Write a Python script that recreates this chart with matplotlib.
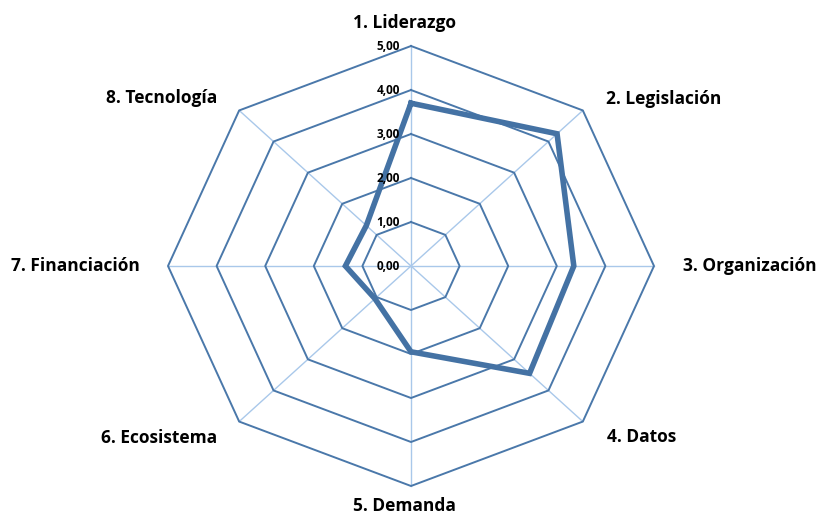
import numpy as np
from matplotlib import pyplot as plt

categories = ["1. Liderazgo", "2. Legislación", "3. Organización", "4. Datos",
              "5. Demanda", "6. Ecosistema", "7. Financiación", "8. Tecnología"]
values = [3.70, 4.25, 3.35, 3.45, 1.95, 1.05, 1.35, 1.30]
rings = [1, 2, 3, 4, 5]
tick_labels = ["0,00", "1,00", "2,00", "3,00", "4,00", "5,00"]

n = len(categories)
# clockwise from the top
ang = np.pi / 2 - np.arange(n) * 2 * np.pi / n
cx, sy = np.cos(ang), np.sin(ang)

fig = plt.figure(figsize=(8.21, 5.17), dpi=100)
ax = fig.add_axes([0, 0, 1, 1])
# horizontal unit ~48.6 px, vertical ~44 px, like the stretched excel radar
ax.set_xlim(-411 / 48.6, 410 / 48.6)
ax.set_ylim(-251 / 44.0, 266 / 44.0)
ax.axis('off')

ring_col = '#4A78AA'
spoke_col = '#A9C8EA'
line_col = '#4472A4'

for i in range(n):
    ax.plot([0, 5 * cx[i]], [0, 5 * sy[i]], color=spoke_col, lw=1.0, zorder=1)

for r in rings:
    xs = np.append(r * cx, r * cx[0])
    ys = np.append(r * sy, r * sy[0])
    ax.plot(xs, ys, color=ring_col, lw=1.4, zorder=2)

vx = np.array(values) * cx
vy = np.array(values) * sy
ax.plot(np.append(vx, vx[0]), np.append(vy, vy[0]), color=line_col, lw=4,
        solid_joinstyle='miter', zorder=3)

for k, t in enumerate(tick_labels):
    ax.text(-0.23, k, t, ha='right', va='center', fontsize=8.5, fontweight='bold',
            family='Open Sans')

lab_font = dict(fontsize=12.5, fontweight='bold', family='Open Sans')
pos = [(-0.14, 5.52, 'center', 'center'),
       (4.01, 3.79, 'left', 'center'),
       (5.6, 0, 'left', 'center'),
       (4.03, -3.89, 'left', 'center'),
       (-0.14, -5.45, 'center', 'center'),
       (-3.99, -3.91, 'right', 'center'),
       (-5.58, 0, 'right', 'center'),
       (-3.99, 3.82, 'right', 'center')]
for name, (x, y, ha, va) in zip(categories, pos):
    ax.text(x, y, name, ha=ha, va=va, **lab_font)

plt.savefig('out.png', dpi=100)
